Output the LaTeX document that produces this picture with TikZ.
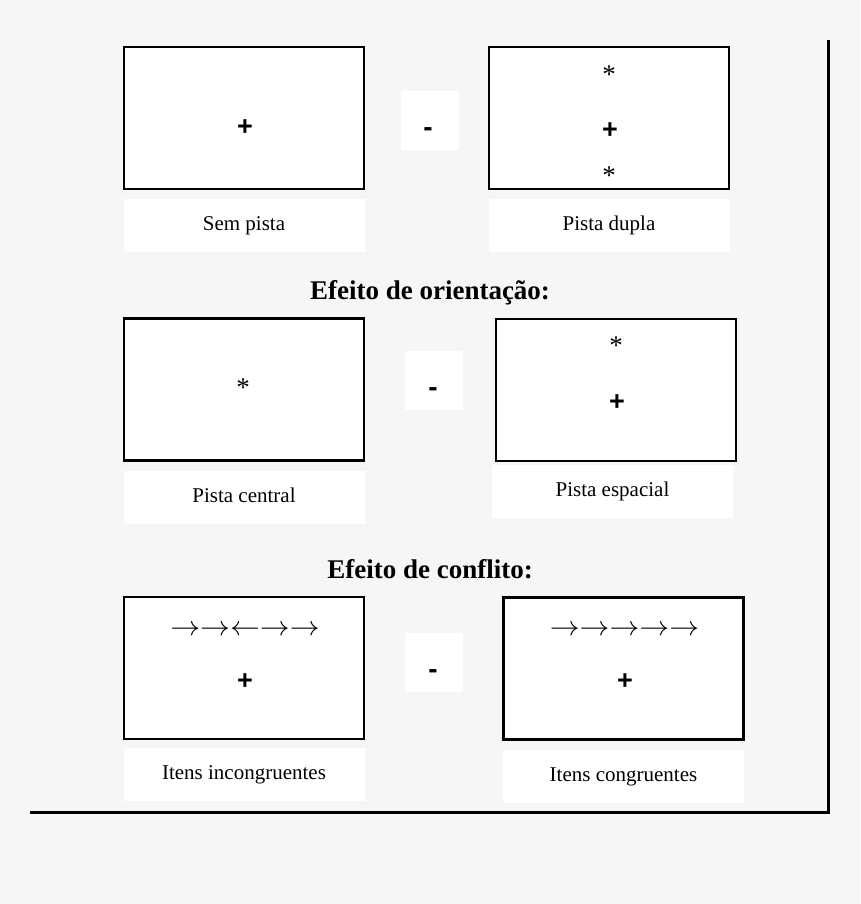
\documentclass[tikz,border=0pt]{standalone}
\usepackage{fontspec}
\setmainfont{Liberation Serif}
\newfontfamily\signfont{Liberation Sans}
\usetikzlibrary{positioning}
\definecolor{pagegray}{HTML}{F6F6F6}

\begin{document}
\begin{tikzpicture}[x=1pt,y=-1pt,every node/.style={inner sep=0pt},
  screen/.style={draw,line width=2.4pt,fill=white,minimum width=240pt,minimum height=142pt},
  caption/.style={fill=white,minimum width=241pt,minimum height=53pt,text height=14pt,text depth=4pt,font=\fontsize{21}{24}\selectfont},
  minusbox/.style={fill=white,minimum width=58pt,minimum height=59pt},
  minussign/.style={font=\signfont\bfseries\fontsize{28}{30}\selectfont},
  fix/.style={font=\signfont\bfseries\fontsize{27}{30}\selectfont},
  cue/.style={font=\fontsize{27}{30}\selectfont},
  flank/.style={xscale=1.2,yscale=1.1,font=\fontsize{24.88}{30}\selectfont},
  heading/.style={font=\bfseries\fontsize{27}{30}\selectfont}]
  \fill[pagegray] (0,0) rectangle (860,904);
  % sem pista / pista dupla
  \node[screen] (nocue) at (244,118) {};
  \node[fix] (nocuefix) at (245,128) {+};
  \node[minusbox] (minusA) at (429.5,120.5) {};
  \node[minussign] (minusAsign) at (428,132) {-};
  \node[screen] (double) at (609,118) {};
  \node[cue] (doubleup) at (609,75) {*};
  \node[fix] (doublefix) at (610,131) {+};
  \node[cue] (doubledown) at (609,176) {*};
  \node[caption] (nocuecap) at (244,225.5) {Sem pista};
  \node[caption] (doublecap) at (609,225.5) {Pista dupla};
  \node[heading] (orient) at (430,293) {Efeito de orientação:};
  % pista central / pista espacial
  \node[screen] (center) at (244,389.5) {};
  \node[cue] (centercue) at (243,388) {*};
  \node[minusbox] (minusB) at (434,380) {};
  \node[minussign] (minusBsign) at (433,392) {-};
  \node[screen] (spatial) at (616,390) {};
  \node[cue] (spatialcue) at (616,346) {*};
  \node[fix] (spatialfix) at (617,403) {+};
  \node[caption] (centercap) at (244,497.5) {Pista central};
  \node[caption] (spatialcap) at (612.5,491.5) {Pista espacial};
  \node[heading] (conflict) at (430,569) {Efeito de conflito:};
  % itens incongruentes / congruentes
  \node[screen] (incong) at (244,668) {};
  \node[flank] (incongrow) at (245,630) {$\rightarrow\rightarrow\leftarrow\rightarrow\rightarrow$};
  \node[fix] (incongfix) at (245,682) {+};
  \node[minusbox] (minusC) at (434,662) {};
  \node[minussign] (minusCsign) at (433,674) {-};
  \node[screen] (cong) at (623.5,668.5) {};
  \node[flank] (congrow) at (624.5,630) {$\rightarrow\rightarrow\rightarrow\rightarrow\rightarrow$};
  \node[fix] (congfix) at (625,682) {+};
  \node[caption] (incongcap) at (244,774) {Itens incongruentes};
  \node[caption] (congcap) at (623.5,776) {Itens congruentes};
  % frame
  \coordinate (top) at (828,40);
  \coordinate (corner) at (828,812);
  \coordinate (left) at (30,812);
  \draw[line width=3pt] (top) -- (corner) -- (left);
\end{tikzpicture}
\end{document}
